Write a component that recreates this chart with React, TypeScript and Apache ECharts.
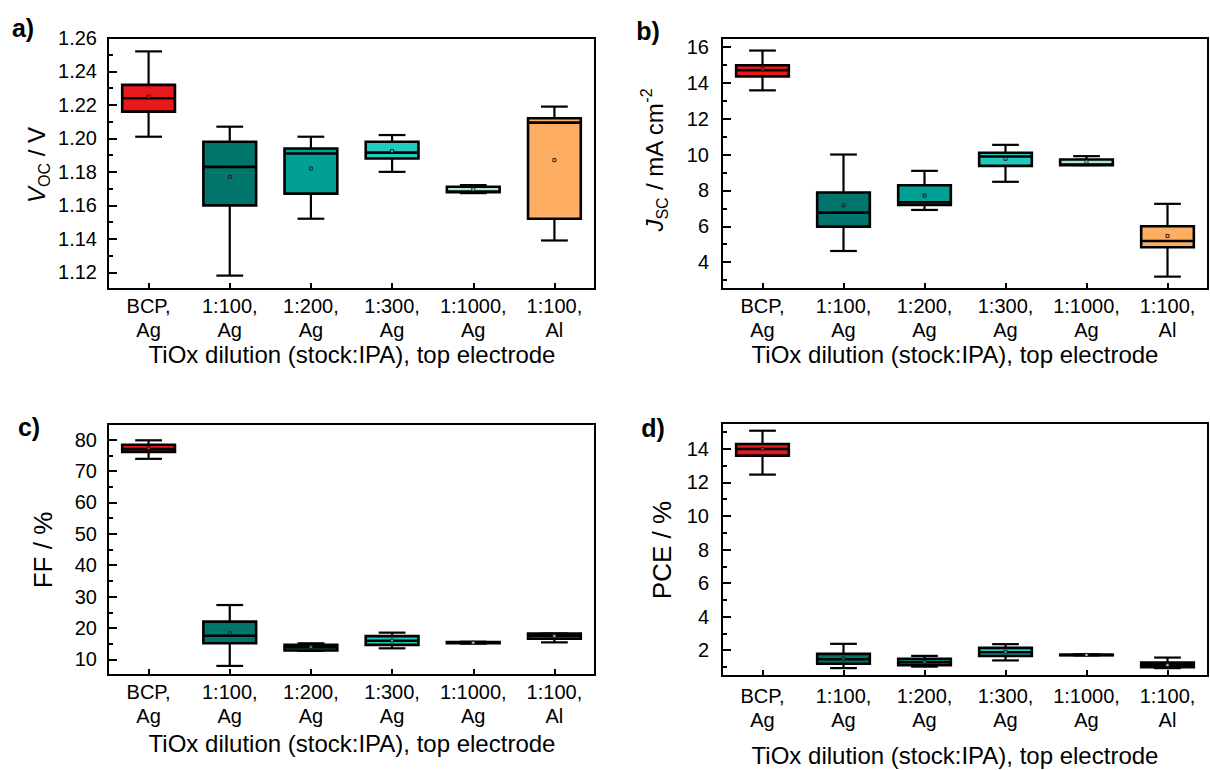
import React, { useEffect, useRef } from 'react';
import * as echarts from 'echarts';

const FONT = '"Liberation Sans", Arial, sans-serif';

const categories = ['BCP,\nAg', '1:100,\nAg', '1:200,\nAg', '1:300,\nAg', '1:1000,\nAg', '1:100,\nAl'];
const boxColors = ['#e8191c', '#00756b', '#00a096', '#22c9bf', '#a9e8d8', '#ffad62'];

// each row: [min, q1, median, q3, max, mean]
const vocBoxes = [
  [1.201, 1.216, 1.224, 1.232, 1.252, 1.225],
  [1.118, 1.160, 1.183, 1.198, 1.207, 1.177],
  [1.152, 1.167, 1.191, 1.194, 1.201, 1.182],
  [1.180, 1.188, 1.1915, 1.198, 1.202, 1.1925],
  [1.1673, 1.1678, 1.1682, 1.1711, 1.1721, 1.1695],
  [1.139, 1.152, 1.2094, 1.212, 1.219, 1.187],
];
const jscBoxes = [
  [13.58, 14.36, 14.70, 14.98, 15.80, 14.77],
  [4.62, 5.98, 6.76, 7.88, 10.0, 7.17],
  [6.91, 7.19, 7.34, 8.29, 9.09, 7.71],
  [8.48, 9.37, 9.89, 10.10, 10.54, 9.76],
  [9.41, 9.41, 9.44, 9.72, 9.91, 9.6],
  [3.19, 4.83, 5.18, 6.0, 7.25, 5.46],
];
const ffBoxes = [
  [73.9, 76.1, 77.0, 78.4, 79.8, 77.3],
  [7.9, 15.1, 17.5, 22.0, 27.3, 18.3],
  [12.7, 12.8, 13.8, 14.6, 15.1, 13.9],
  [13.5, 14.6, 15.9, 17.4, 18.5, 16.0],
  [15.0, 15.1, 15.3, 15.5, 15.6, 15.3],
  [15.4, 16.6, 17.5, 18.2, 18.2, 17.4],
];
const pceBoxes = [
  [12.47, 13.6, 14.0, 14.3, 15.09, 14.0],
  [0.92, 1.18, 1.45, 1.77, 2.37, 1.5],
  [1.01, 1.10, 1.27, 1.47, 1.65, 1.3],
  [1.38, 1.65, 1.87, 2.13, 2.35, 1.9],
  [1.68, 1.69, 1.71, 1.72, 1.74, 1.71],
  [0.92, 0.98, 1.11, 1.25, 1.55, 1.1],
];

const vocMajor = [1.12, 1.14, 1.16, 1.18, 1.20, 1.22, 1.24, 1.26];
const vocMinor = [1.13, 1.15, 1.17, 1.19, 1.21, 1.23, 1.25];
const jscMajor = [4, 6, 8, 10, 12, 14, 16];
const jscMinor = [3, 5, 7, 9, 11, 13, 15];
const ffMajor = [10, 20, 30, 40, 50, 60, 70, 80];
const ffMinor = [15, 25, 35, 45, 55, 65, 75];
const pceMajor = [2, 4, 6, 8, 10, 12, 14];
const pceMinor = [1, 3, 5, 7, 9, 11, 13, 15];

const xTitle = 'TiOx dilution (stock:IPA), top electrode';

const panels = [
  { grid: { left: 108, top: 38, width: 487, height: 251 }, min: 1.11, max: 1.26, major: vocMajor, minor: vocMinor, data: vocBoxes, dec: 2, yMargin: 11, xMargin: 5 },
  { grid: { left: 722, top: 38, width: 486, height: 251 }, min: 2.5, max: 16.5, major: jscMajor, minor: jscMinor, data: jscBoxes, dec: 0, yMargin: 13, xMargin: 5 },
  { grid: { left: 108, top: 424, width: 487, height: 251 }, min: 5, max: 85, major: ffMajor, minor: ffMinor, data: ffBoxes, dec: 0, yMargin: 11, xMargin: 5 },
  { grid: { left: 722, top: 423, width: 486, height: 253 }, min: 0.45, max: 15.55, major: pceMajor, minor: pceMinor, data: pceBoxes, dec: 0, yMargin: 13, xMargin: 8 },
];

export default function App() {
  const ref = useRef<HTMLDivElement>(null);
  useEffect(() => {
    if (!ref.current) return;
    const chart = echarts.init(ref.current, null, { renderer: 'svg' });
    const black = '#000';
    const grids: any[] = [];
    const xAxes: any[] = [];
    const yAxes: any[] = [];
    const series: any[] = [];
    panels.forEach((p, i) => {
      grids.push({ ...p.grid, show: true, borderColor: black, borderWidth: 2, backgroundColor: 'transparent' });
      xAxes.push({
        type: 'category', gridIndex: i, data: categories, boundaryGap: true,
        axisLine: { show: true, lineStyle: { color: black, width: 2 } },
        axisTick: { show: true, inside: true, alignWithLabel: true, length: 6, lineStyle: { color: black, width: 2 } },
        axisLabel: { color: black, fontSize: 20, lineHeight: 24, fontFamily: FONT, margin: p.xMargin, interval: 0 },
        splitLine: { show: false },
      });
      yAxes.push({
        type: 'value', gridIndex: i, position: 'left', min: p.min, max: p.max,
        axisLine: { show: true, lineStyle: { color: black, width: 2 } },
        axisTick: { show: true, inside: true, length: 9, lineStyle: { color: black, width: 2 }, customValues: p.major },
        axisLabel: {
          customValues: p.major, color: black, fontSize: 20, fontFamily: FONT, margin: p.yMargin,
          formatter: (v: number) => v.toFixed(p.dec),
        },
        splitLine: { show: false },
      });
      yAxes.push({
        type: 'value', gridIndex: i, position: 'left', min: p.min, max: p.max,
        axisLine: { show: false },
        axisTick: { show: true, inside: true, length: 5, lineStyle: { color: black, width: 2 }, customValues: p.minor },
        axisLabel: { show: false },
        splitLine: { show: false },
      });
      series.push({
        type: 'custom', xAxisIndex: i, yAxisIndex: 2 * i,
        data: p.data.map((r, k) => [k, ...r]),
        encode: { x: 0, y: [1, 2, 3, 4, 5] },
        renderItem: (params: any, api: any) => {
          const idx = api.value(0);
          const bw = api.size([1, 0])[0];
          const half = bw * 0.325;
          const cap = bw * 0.165;
          const yMin = api.coord([idx, api.value(1)])[1];
          const yQ1 = api.coord([idx, api.value(2)])[1];
          const yMd = api.coord([idx, api.value(3)])[1];
          const yQ3 = api.coord([idx, api.value(4)])[1];
          const yMax = api.coord([idx, api.value(5)])[1];
          const yMean = api.coord([idx, api.value(6)])[1];
          const x = api.coord([idx, api.value(3)])[0];
          const color = boxColors[params.dataIndex];
          const ls = { stroke: black, lineWidth: 2.2 };
          return {
            type: 'group',
            children: [
              { type: 'line', shape: { x1: x, y1: yMax, x2: x, y2: yQ3 }, style: ls },
              { type: 'line', shape: { x1: x, y1: yQ1, x2: x, y2: yMin }, style: ls },
              { type: 'line', shape: { x1: x - cap, y1: yMax, x2: x + cap, y2: yMax }, style: ls },
              { type: 'line', shape: { x1: x - cap, y1: yMin, x2: x + cap, y2: yMin }, style: ls },
              { type: 'rect', shape: { x: x - half, y: yQ3, width: 2 * half, height: Math.max(yQ1 - yQ3, 0.5) }, style: { fill: color, stroke: black, lineWidth: 2.6 } },
              { type: 'line', shape: { x1: x - half, y1: yMd, x2: x + half, y2: yMd }, style: { stroke: black, lineWidth: 2.6 } },
              { type: 'rect', shape: { x: x - 1.5, y: yMean - 1.5, width: 3, height: 3 }, style: { fill: color, stroke: '#222', lineWidth: 1 } },
            ],
          };
        },
      });
    });

    const titleStyle = { fill: black, fontSize: 24, fontFamily: FONT, align: 'center', verticalAlign: 'middle' };
    const yt = (x: number, y: number, text: string, rich?: any) => ({
      type: 'text', x, y, rotation: Math.PI / 2,
      style: { text, rich, fill: black, fontSize: 26, fontFamily: FONT, align: 'center', verticalAlign: 'middle' },
    });
    const richSub = {
      i: { fontSize: 24, fontStyle: 'italic', fontFamily: FONT, fill: black, lineHeight: 32 },
      n: { fontSize: 24, fontFamily: FONT, fill: black, lineHeight: 32 },
      s: { fontSize: 16, fontFamily: FONT, fill: black, verticalAlign: 'bottom' },
      u: { fontSize: 16, fontFamily: FONT, fill: black, verticalAlign: 'top' },
    };
    const label = (x: number, y: number, text: string) => ({
      type: 'text', x, y,
      style: { text, fontSize: 25, fontWeight: 'bold', fontFamily: FONT, fill: black, align: 'center', verticalAlign: 'middle' },
    });
    const graphic: any[] = [
      label(23, 28, 'a)'),
      label(648, 31, 'b)'),
      label(29, 427, 'c)'),
      label(653, 428, 'd)'),
      yt(36, 165, '{i|V}{s|OC}{n| / V}', richSub),
      yt(654, 160, '{i|J}{s|SC}{n| / mA cm}{u|-2}', richSub),
      yt(43, 550, 'FF / %'),
      yt(662, 550, 'PCE / %'),
      { type: 'text', x: 352, y: 354, style: { text: xTitle, ...titleStyle } },
      { type: 'text', x: 955, y: 354, style: { text: xTitle, ...titleStyle } },
      { type: 'text', x: 352, y: 743, style: { text: xTitle, ...titleStyle } },
      { type: 'text', x: 955, y: 755, style: { text: xTitle, ...titleStyle } },
    ];

    chart.setOption({
      animation: false,
      backgroundColor: '#fff',
      textStyle: { fontFamily: FONT },
      grid: grids,
      xAxis: xAxes,
      yAxis: yAxes,
      series,
      graphic,
    });
    return () => chart.dispose();
  }, []);
  return <div ref={ref} style={{ position: 'fixed', left: 0, top: 0, width: 1210, height: 770, background: '#fff' }} />;
}
